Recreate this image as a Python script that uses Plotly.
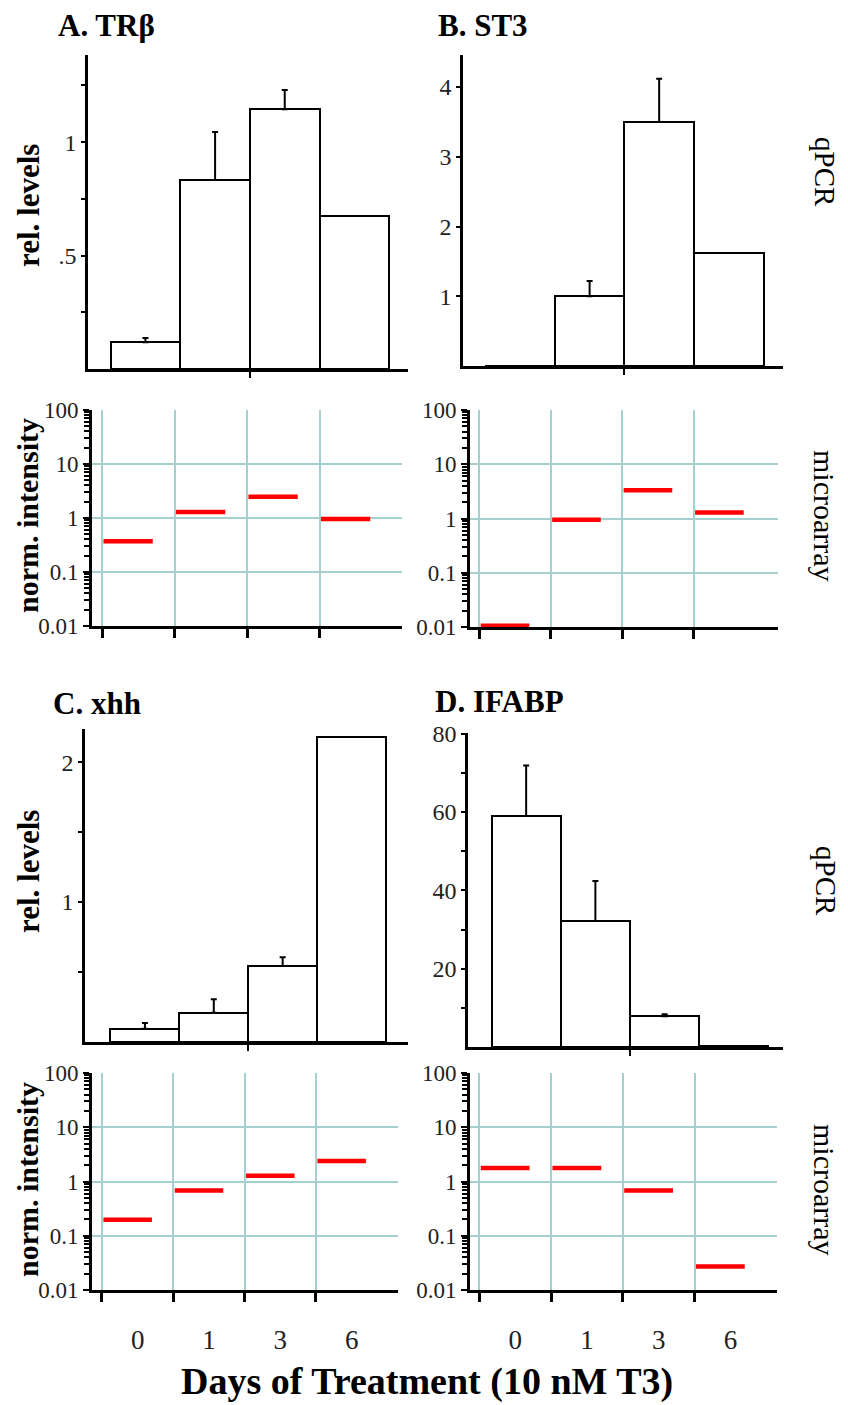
import plotly.graph_objects as go

W, H = 848, 1405

days = ["0", "1", "3", "6"]
bar_pos = [0, 1, 2, 3]

# qPCR relative levels (bar heights) and upper error sizes
trb_qpcr = [0.118, 0.833, 1.145, 0.673]
trb_err = [0.019, 0.212, 0.085, None]
st3_qpcr = [0.0, 1.0, 3.5, 1.62]
st3_err = [None, 0.22, 0.62, None]
xhh_qpcr = [0.095, 0.209, 0.543, 2.183]
xhh_err = [0.041, 0.096, 0.062, None]
ifabp_qpcr = [59.0, 32.2, 7.85, 0.3]
ifabp_err = [12.9, 10.2, 0.5, None]

# microarray normalized intensity
trb_micro = [0.37, 1.29, 2.48, 0.96]
st3_micro = [0.0105, 0.95, 3.3, 1.29]
xhh_micro = [0.197, 0.68, 1.27, 2.38]
ifabp_micro = [1.77, 1.77, 0.68, 0.0272]

log_ticks = [0.01, 0.1, 1, 10, 100]
log_ticktext = ["0.01", "0.1", "1", "10", "100"]
log_minor = [m * d for d in [0.01, 0.1, 1, 10] for m in range(2, 10)]

FONT = "Liberation Serif"
TEAL = "#a6cfcf"


def px_x(x):
    return x / W


def px_y(y):
    return 1 - y / H


fig = go.Figure()

bar_panels = [
    dict(v=trb_qpcr, e=trb_err, xd=(88, 408), yd=(55, 369), xr=[-0.825, 3.77], yr=[0, 1.384],
         tv=[0.5, 1], tt=[".5", "1"], minor=[0.25, 0.75, 1.25]),
    dict(v=st3_qpcr, e=st3_err, xd=(463, 783), yd=(55, 366), xr=[-0.82, 3.78], yr=[0, 4.46],
         tv=[1, 2, 3, 4], tt=["1", "2", "3", "4"], minor=[]),
    dict(v=xhh_qpcr, e=xhh_err, xd=(85, 408), yd=(729, 1042), xr=[-0.87, 3.82], yr=[0, 2.237],
         tv=[1, 2], tt=["1", "2"], minor=[0.5, 1.5]),
    dict(v=ifabp_qpcr, e=ifabp_err, xd=(468, 783), yd=(733, 1047), xr=[-0.84, 3.71], yr=[0, 80.2],
         tv=[20, 40, 60, 80], tt=["20", "40", "60", "80"], minor=[10, 30, 50, 70]),
]

micro_panels = [
    dict(v=trb_micro, xd=(92, 402), yd=(410, 626), xr=[-0.138, 4.138], labels=False),
    dict(v=st3_micro, xd=(470, 778), yd=(410, 627), xr=[-0.13, 4.18], labels=False),
    dict(v=xhh_micro, xd=(92, 398), yd=(1073, 1290), xr=[-0.14, 4.15], labels=True),
    dict(v=ifabp_micro, xd=(470, 777), yd=(1073, 1290), xr=[-0.13, 4.15], labels=True),
]

layout = dict(
    width=W, height=H, autosize=False,
    margin=dict(l=0, r=0, t=0, b=0, pad=0, autoexpand=False),
    paper_bgcolor="white", plot_bgcolor="white",
    showlegend=False, bargap=0,
    font=dict(family=FONT, color="black"),
)

ax = 1
for p in bar_panels:
    xa = "x" if ax == 1 else f"x{ax}"
    ya = "y" if ax == 1 else f"y{ax}"
    fig.add_trace(go.Bar(
        x=bar_pos, y=p["v"], width=1,
        marker=dict(color="white", line=dict(color="black", width=2)),
        xaxis=xa, yaxis=ya,
    ))
    idx = [i for i in range(4) if p["e"][i] is not None]
    fig.add_trace(go.Scatter(
        x=[bar_pos[i] for i in idx], y=[p["v"][i] for i in idx],
        mode="markers", marker=dict(size=1, color="rgba(0,0,0,0)"),
        error_y=dict(type="data", symmetric=False, array=[p["e"][i] for i in idx],
                     arrayminus=[0] * len(idx), color="black", thickness=2, width=3),
        xaxis=xa, yaxis=ya,
    ))
    layout[f"xaxis{ax}"] = dict(
        domain=[px_x(p["xd"][0]), px_x(p["xd"][1])], range=p["xr"], anchor=ya,
        showline=True, linecolor="black", linewidth=2.5, automargin=False,
        tickvals=[1.5], ticks="outside", ticklen=6, tickwidth=2, tickcolor="black",
        showticklabels=False, showgrid=False, zeroline=False,
    )
    layout[f"yaxis{ax}"] = dict(
        domain=[px_y(p["yd"][1]), px_y(p["yd"][0])], range=p["yr"], anchor=xa,
        showline=True, linecolor="black", linewidth=2.5, automargin=False,
        tickvals=p["tv"], ticktext=p["tt"], ticks="outside", ticklen=4, tickwidth=1.5,
        tickcolor="black", tickfont=dict(family=FONT, size=24, color="#222"),
        minor=dict(tickvals=p["minor"], ticks="outside", ticklen=4, tickwidth=1.5, tickcolor="black"),
        showgrid=False, zeroline=False,
    )
    ax += 1

for p in micro_panels:
    xa = f"x{ax}"
    ya = f"y{ax}"
    sx, sy = [], []
    for i, val in enumerate(p["v"]):
        sx += [bar_pos[i] + 0.02, bar_pos[i] + 0.70, None]
        sy += [val, val, None]
    fig.add_trace(go.Scatter(
        x=sx, y=sy, mode="lines", line=dict(color="#ff0000", width=4.5),
        xaxis=xa, yaxis=ya,
    ))
    layout[f"xaxis{ax}"] = dict(
        domain=[px_x(p["xd"][0]), px_x(p["xd"][1])], range=p["xr"], anchor=ya,
        showline=True, linecolor="black", linewidth=3, zeroline=False, automargin=False,
        tickvals=[b + 0.5 for b in bar_pos], ticktext=days,
        showticklabels=p["labels"], ticks="outside", ticklen=24, tickcolor="rgba(0,0,0,0)",
        tickfont=dict(family=FONT, size=27, color="#222"),
        showgrid=False,
        minor=dict(tickvals=bar_pos, ticks="outside", ticklen=9, tickwidth=2.5, tickcolor="black",
                   showgrid=True, gridcolor=TEAL, gridwidth=1.5),
    )
    layout[f"yaxis{ax}"] = dict(
        domain=[px_y(p["yd"][1]), px_y(p["yd"][0])], type="log", range=[-2, 2], anchor=xa,
        showline=True, linecolor="black", linewidth=3, zeroline=False, automargin=False,
        tickvals=log_ticks, ticktext=log_ticktext,
        ticks="outside", ticklen=6, tickwidth=2, tickcolor="black",
        tickfont=dict(family=FONT, size=23, color="#222"),
        showgrid=True, gridcolor=TEAL, gridwidth=2,
        minor=dict(tickvals=log_minor, ticks="outside", ticklen=5, tickwidth=1.5,
                   tickcolor="black", showgrid=False),
    )
    ax += 1

fig.update_layout(**layout)

ann = []


def add_text(text, x, y, size, bold=False, angle=0, xanchor="center"):
    t = f"<b>{text}</b>" if bold else text
    ann.append(dict(text=t, x=px_x(x), y=px_y(y), xref="paper", yref="paper",
                    showarrow=False, textangle=angle, xanchor=xanchor, yanchor="middle",
                    font=dict(family=FONT, size=size, color="black")))


add_text("A. TRβ", 56, 25, 31, bold=True, xanchor="left")
add_text("B. ST3", 436, 25, 31, bold=True, xanchor="left")
add_text("C. xhh", 51, 703, 31, bold=True, xanchor="left")
add_text("D. IFABP", 433, 701, 31, bold=True, xanchor="left")

add_text("rel. levels", 28, 206, 31, bold=True, angle=-90)
add_text("rel. levels", 28, 872, 31, bold=True, angle=-90)
add_text("norm. intensity", 27, 516, 30, bold=True, angle=-90)
add_text("norm. intensity", 27, 1180, 30, bold=True, angle=-90)

add_text("qPCR", 825, 172, 29, angle=90)
add_text("qPCR", 826, 881, 29, angle=90)
add_text("microarray", 825, 516, 30, angle=90)
add_text("microarray", 825, 1190, 30, angle=90)

add_text("Days of Treatment (10 nM T3)", 427, 1381, 38, bold=True)

fig.update_layout(annotations=ann)

fig.write_html(
    "out.html",
    config={"displayModeBar": False},
    post_script="document.body.style.margin='0';document.body.style.overflow='hidden';",
)
